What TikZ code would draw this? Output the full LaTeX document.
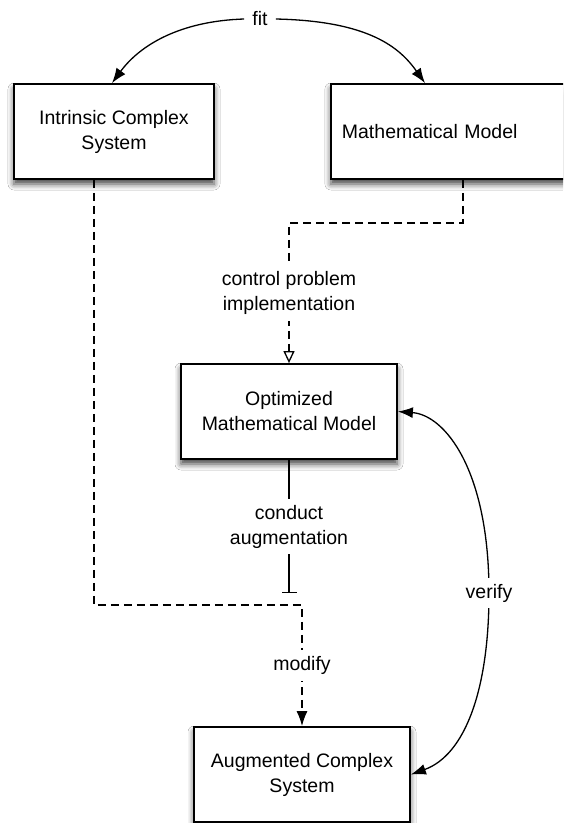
\documentclass[tikz,border=0pt]{standalone}
\usepackage{fontspec}
\setmainfont{Liberation Sans}
\usetikzlibrary{arrows.meta,shadows.blur,calc}
\begin{document}
\begin{tikzpicture}[x=1pt,y=-1pt,
  every node/.style={font=\fontsize{19.5}{25}\selectfont},
  box/.style={draw=black,line width=1.8pt,fill=white,minimum height=95pt,inner sep=0pt,align=center,
    blur shadow={shadow xshift=0pt,shadow yshift=-5pt,shadow blur radius=6pt,shadow opacity=75}},
  conn/.style={line width=1.3pt},
  dashline/.style={conn,dash pattern=on 8pt off 5pt},
  lbl/.style={fill=white,inner xsep=2pt,inner ysep=6pt,align=center},
  bigarrow/.style={-{Latex[length=15pt,width=11pt]}},
]
\clip (0,0) rectangle (563,823);
\fill[white] (0,0) rectangle (563,823);

\node[box,minimum width=200pt] (intr) at (114,131.5) {Intrinsic Complex\\System};
\node[box,anchor=west,text width=228pt,inner xsep=11pt,align=left] (math) at (330,131.5) {\raisebox{-2pt}{Mathematical Model}};
\node[box,minimum width=216pt] (opt) at (289,411.5) {Optimized\\Mathematical Model};
\node[box,minimum width=216pt] (aug) at (302,774.5) {Augmented Complex\\System};

\node[inner xsep=8pt] (fit) at (260,19) {fit};
\draw[conn,bigarrow] (fit.west) .. controls (180,21) and (140,45) .. ([xshift=-2pt]intr.north);
\draw[conn,bigarrow] (fit.east) .. controls (370,21) and (400,48) .. ($(math.north west)+(95,0)$);

\coordinate (c1) at (94,605);
\draw[dashline,bigarrow] ([xshift=-20pt]intr.south) -- (c1) -| node[lbl,pos=0.75] {modify} (aug.north);

\coordinate (c2) at (463,223);
\draw[dashline,-{Triangle[open,length=12pt,width=11pt,line width=1.3pt]}] ($(math.south west)+(133,0)$) -- (c2) -| node[lbl,pos=0.75] {control problem\\implementation} (opt.north);

\coordinate (t1) at (289,593);
\draw[conn,-{Bar[width=15pt]}] (opt.south) -- node[lbl] {conduct\\augmentation} (t1);

\coordinate (v1) at (489,593);
\draw[conn,{Latex[length=15pt,width=11pt]}-{Latex[length=15pt,width=11pt]}] (opt.east) .. controls (445,415) and (489,470) .. (v1) .. controls (489,690) and (465,755) .. (aug.east);
\node[lbl] at (v1) {verify};
\end{tikzpicture}
\end{document}
